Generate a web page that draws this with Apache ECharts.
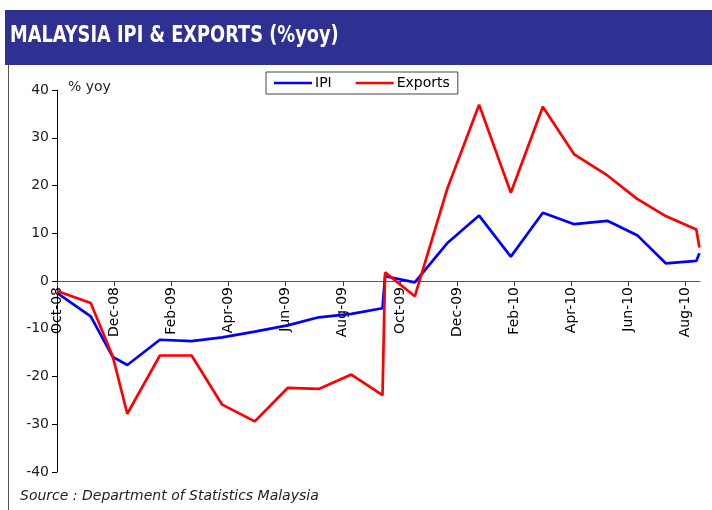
<!DOCTYPE html>
<html>
<head>
<meta charset="utf-8">
<script src="https://cdn.jsdelivr.net/npm/echarts@6/dist/echarts.min.js"></script>
<style>
  html, body { margin: 0; padding: 0; background: #fff; }
  #chart { width: 712px; height: 510px; }
</style>
</head>
<body>
<div id="chart"></div>
<script>
const monthPos = [0, 1.18, 1.95, 2.46, 3.6, 4.71, 5.78, 6.92, 8.07, 9.16, 10.3, 11.39,
  11.48, 12.52, 13.65, 14.77, 15.88, 17.0, 18.1, 19.26, 20.3, 21.3, 22.37, 22.48]

const ipi = [-2.5, -7.4, -15.9, -17.6, -12.3, -12.6, -11.8, -10.6, -9.3, -7.6, -6.9, -5.7,
  1.0, -0.3, 7.9, 13.7, 5.1, 14.3, 11.9, 12.6, 9.6, 3.7, 4.2, 5.8]

const exportsYoy = [-2.1, -4.6, -15.8, -27.8, -15.6, -15.6, -25.9, -29.4, -22.4, -22.6, -19.6, -23.9,
  1.8, -3.2, 19.2, 36.9, 18.5, 36.5, 26.5, 22.1, 17.2, 13.6, 10.8, 7.0]

const tickPos = [0, 2, 4, 6, 8, 10, 12, 14, 16, 18, 20, 22]
const tickLabels = ['Oct-08', 'Dec-08', 'Feb-09', 'Apr-09', 'Jun-09', 'Aug-09',
  'Oct-09', 'Dec-09', 'Feb-10', 'Apr-10', 'Jun-10', 'Aug-10']

const pairs = (vals) => vals.map((v, i) => [monthPos[i], v])

const font = 'DejaVu Sans, Verdana, sans-serif'

// plot area: y runs -40..40 between top 90 and bottom 472, so zero sits half way
const gridTop = 90
const gridBottom = 38
const plotH = 510 - gridTop - gridBottom

const chart = echarts.init(document.getElementById('chart'))
chart.setOption({
  backgroundColor: '#fff',
  animation: false,
  textStyle: { fontFamily: font },
  grid: { left: 57, right: 12, top: gridTop, bottom: gridBottom, containLabel: false, outerBoundsMode: 'none' },
  legend: {
    top: 72,
    left: 266,
    data: ['IPI', 'Exports'],
    icon: 'rect',
    itemWidth: 38,
    itemHeight: 2.5,
    itemGap: 24,
    padding: [4, 8, 4, 8],
    borderColor: '#444',
    borderWidth: 1,
    backgroundColor: '#fff',
    textStyle: { fontFamily: font, fontSize: 14, color: '#000', padding: [0, 0, 0, -2] }
  },
  graphic: [
    {
      type: 'rect',
      shape: { x: 5, y: 10, width: 707, height: 55 },
      style: { fill: '#2e3192' }
    },
    {
      type: 'text',
      x: 10,
      y: 25,
      scaleX: 0.86,
      style: {
        text: 'MALAYSIA IPI & EXPORTS (%yoy)',
        fill: '#fff',
        font: 'bold 23px "DejaVu Sans Condensed", sans-serif'
      }
    },
    {
      type: 'line',
      shape: { x1: 8.5, y1: 65, x2: 8.5, y2: 510 },
      style: { stroke: '#555', lineWidth: 1 }
    },
    {
      type: 'text',
      left: 68,
      top: 80,
      style: { text: '% yoy', fill: '#222', font: '14px ' + font }
    },
    {
      type: 'text',
      left: 20,
      top: 489,
      style: {
        text: 'Source : Department of Statistics Malaysia',
        fill: '#222',
        font: 'italic 14px ' + font
      }
    }
  ],
  xAxis: {
    type: 'value',
    min: 0,
    max: 22.5,
    offset: -plotH / 2,
    splitLine: { show: false },
    axisLine: { onZero: false, lineStyle: { color: '#555', width: 1 } },
    axisTick: { customValues: tickPos, length: 5, lineStyle: { color: '#333' } },
    axisLabel: {
      customValues: tickPos,
      rotate: 90,
      margin: 6,
      fontSize: 14,
      color: '#000',
      fontFamily: font,
      formatter: (v) => tickLabels[Math.round(v / 2)] || ''
    }
  },
  yAxis: {
    type: 'value',
    min: -40,
    max: 40,
    interval: 10,
    splitLine: { show: false },
    axisLine: { show: true, onZero: false, lineStyle: { color: '#000', width: 1 } },
    axisTick: { show: true, length: 5, lineStyle: { color: '#000' } },
    axisLabel: { fontSize: 14, color: '#222', margin: 8, fontFamily: font }
  },
  series: [
    {
      name: 'IPI',
      type: 'line',
      data: pairs(ipi),
      symbol: 'none',
      lineStyle: { color: '#0000ff', width: 2.7 },
      itemStyle: { color: '#0000ff' }
    },
    {
      name: 'Exports',
      type: 'line',
      data: pairs(exportsYoy),
      symbol: 'none',
      lineStyle: { color: '#ff0000', width: 2.7 },
      itemStyle: { color: '#ff0000' }
    }
  ]
})
</script>
</body>
</html>
